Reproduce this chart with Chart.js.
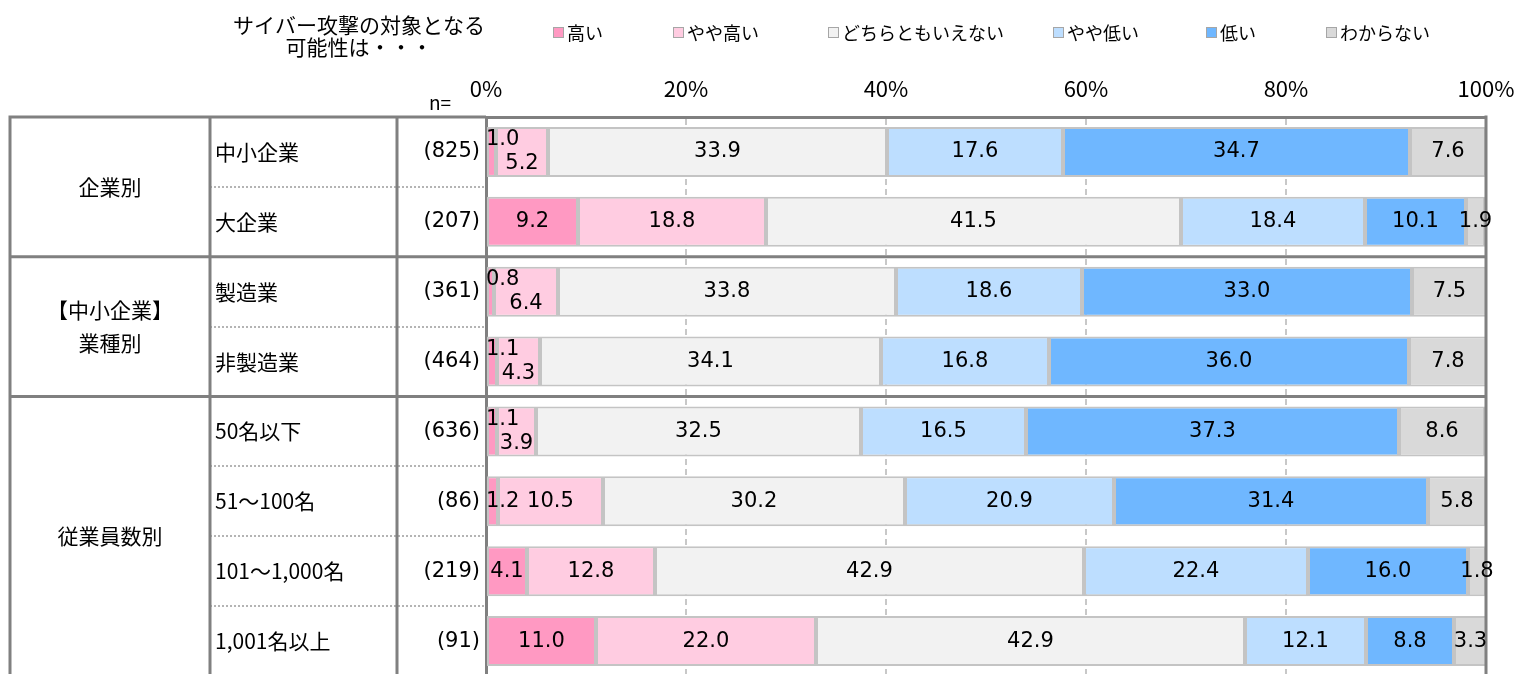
<!DOCTYPE html>
<html lang="ja">
<head>
<meta charset="utf-8">
<title>サイバー攻撃の対象となる可能性</title>
<script src="https://cdn.jsdelivr.net/npm/chart.js@4.4.1/dist/chart.umd.min.js"></script>
<style>
  html, body { margin: 0; padding: 0; background: #fff; overflow: hidden; }
  #wrap { position: relative; width: 1519px; height: 680px; }
</style>
</head>
<body>
<div id="wrap"><canvas id="chart"></canvas></div>
<script>
// 行ラベルとサンプル数
const rowLabels = ['中小企業', '大企業', '製造業', '非製造業', '50名以下', '51～100名', '101～1,000名', '1,001名以上'];
const sampleSizes = [825, 207, 361, 464, 636, 86, 219, 91];
const groupNames = ['企業別', '【中小企業】\n業種別', '従業員数別'];
const groupSizes = [2, 2, 4];

// 系列
const seriesNames = ['高い', 'やや高い', 'どちらともいえない', 'やや低い', '低い', 'わからない'];
const seriesColors = ['#FF99C2', '#FFCCE1', '#F2F2F2', '#BDDEFF', '#6FB7FF', '#D9D9D9'];
const high = [1.0, 9.2, 0.8, 1.1, 1.1, 1.2, 4.1, 11.0];
const ratherHigh = [5.2, 18.8, 6.4, 4.3, 3.9, 10.5, 12.8, 22.0];
const neither = [33.9, 41.5, 33.8, 34.1, 32.5, 30.2, 42.9, 42.9];
const ratherLow = [17.6, 18.4, 18.6, 16.8, 16.5, 20.9, 22.4, 12.1];
const low = [34.7, 10.1, 33.0, 36.0, 37.3, 31.4, 16.0, 8.8];
const unknown = [7.6, 1.9, 7.5, 7.8, 8.6, 5.8, 1.8, 3.3];
const seriesValues = [high, ratherHigh, neither, ratherLow, low, unknown];

const JP = '"Noto Sans CJK JP", sans-serif';
const NUM = '"DejaVu Sans", Verdana, sans-serif';

// 凡例とタイトル
const headerPlugin = {
  id: 'header',
  afterDraw(chart) {
    const ctx = chart.ctx;
    ctx.save();
    ctx.fillStyle = '#000';
    ctx.textBaseline = 'middle';
    ctx.textAlign = 'center';
    ctx.font = '21px ' + JP;
    ctx.fillText('サイバー攻撃の対象となる', 359, 25);
    ctx.fillText('可能性は・・・', 359, 47);
    ctx.font = '19px ' + JP;
    ctx.fillText('n=', 440, 103);

    const boxX = [553, 673, 828, 1053, 1206, 1326];
    ctx.textAlign = 'left';
    ctx.font = '18px ' + JP;
    chart.data.datasets.forEach((ds, i) => {
      ctx.fillStyle = ds.backgroundColor;
      ctx.fillRect(boxX[i], 27, 11, 11);
      ctx.strokeStyle = '#A6A6A6';
      ctx.lineWidth = 1;
      ctx.strokeRect(boxX[i] + 0.5, 27.5, 10, 10);
      ctx.fillStyle = '#000';
      ctx.fillText(ds.label, boxX[i] + 14, 33);
    });
    ctx.restore();
  }
};

// 左側の表
const tablePlugin = {
  id: 'table',
  afterDatasetsDraw(chart) {
    const ctx = chart.ctx;
    const y = chart.scales.y;
    const area = chart.chartArea;
    const step = y.getPixelForValue(1) - y.getPixelForValue(0);
    const edge = i => y.getPixelForValue(i) - step / 2;
    const col1 = 10, col2 = 210, col3 = 397, right = area.left;
    ctx.save();

    // 行間の点線
    ctx.strokeStyle = '#B4B4B4';
    ctx.lineWidth = 2;
    ctx.setLineDash([2, 2]);
    let start = 0;
    groupSizes.forEach(n => {
      for (let k = 1; k < n; k++) {
        const yy = Math.round(edge(start + k));
        ctx.beginPath();
        ctx.moveTo(col2, yy);
        ctx.lineTo(right, yy);
        ctx.stroke();
      }
      start += n;
    });
    ctx.setLineDash([]);

    // 罫線
    ctx.strokeStyle = '#808080';
    ctx.lineWidth = 3;
    ctx.beginPath();
    ctx.moveTo(col1, area.top);
    ctx.lineTo(right, area.top);
    start = 0;
    groupSizes.forEach((n, g) => {
      if (g > 0) {
        const yy = edge(start);
        ctx.moveTo(col1, yy);
        ctx.lineTo(area.right, yy);
      }
      start += n;
    });
    [col1, col2, col3].forEach(x => {
      ctx.moveTo(x, area.top - 1.5);
      ctx.lineTo(x, area.bottom);
    });
    ctx.moveTo(area.right, area.top - 1.5);
    ctx.lineTo(area.right, area.bottom);
    ctx.stroke();

    // 文字
    ctx.fillStyle = '#000';
    ctx.textBaseline = 'middle';
    ctx.font = '21px ' + JP;
    start = 0;
    groupSizes.forEach((n, g) => {
      const mid = (edge(start) + edge(start + n)) / 2;
      const lines = groupNames[g].split('\n');
      ctx.textAlign = 'center';
      lines.forEach((t, li) => {
        ctx.fillText(t, 110, mid + (li - (lines.length - 1) / 2) * 33);
      });
      start += n;
    });
    rowLabels.forEach((t, i) => {
      const yy = y.getPixelForValue(i);
      ctx.textAlign = 'left';
      ctx.font = '21px ' + JP;
      ctx.fillText(t, 215, yy);
      ctx.textAlign = 'right';
      ctx.font = '21px ' + NUM;
      ctx.fillText('(' + sampleSizes[i] + ')', 480, yy);
    });
    ctx.restore();
  }
};

// 値ラベル
const valuePlugin = {
  id: 'values',
  afterDatasetsDraw(chart) {
    const ctx = chart.ctx;
    ctx.save();
    ctx.font = '21px ' + NUM;
    ctx.fillStyle = '#000';
    ctx.textBaseline = 'middle';
    chart.data.datasets.forEach((ds, di) => {
      chart.getDatasetMeta(di).data.forEach((bar, i) => {
        const text = ds.data[i].toFixed(1);
        const crowded = ratherHigh[i] < 7;
        let x = (bar.x + bar.base) / 2;
        let yy = bar.y;
        ctx.textAlign = 'center';
        if (di === 0 && ctx.measureText(text).width > Math.abs(bar.x - bar.base)) {
          ctx.textAlign = 'left';
          x = bar.base - 1;
        }
        if (crowded && di === 0) yy -= 12;
        if (crowded && di === 1) yy += 12;
        ctx.fillText(text, x, yy);
      });
    });
    ctx.restore();
  }
};

const datasets = seriesNames.map((name, i) => ({
  label: name,
  data: seriesValues[i],
  backgroundColor: seriesColors[i],
  borderColor: '#C4C4C4',
  borderWidth: 2,
  borderSkipped: false,
  barPercentage: 0.715,
  categoryPercentage: 1.0
}));

new Chart(document.getElementById('chart'), {
  type: 'bar',
  data: { labels: rowLabels, datasets: datasets },
  options: {
    indexAxis: 'y',
    responsive: true,
    maintainAspectRatio: false,
    animation: false,
    layout: { padding: { left: 486, right: 33, top: 0, bottom: 4 } },
    plugins: {
      legend: { display: false },
      tooltip: { enabled: false }
    },
    scales: {
      x: {
        position: 'top',
        stacked: true,
        min: 0,
        max: 100,
        ticks: {
          stepSize: 20,
          color: '#000',
          padding: 15,
          font: { family: JP, size: 22 },
          callback: v => v + '%'
        },
        grid: {
          drawTicks: false,
          lineWidth: 2,
          color: c => {
            if (!c.tick || c.tick.value === 0) return 'rgba(0,0,0,0)';
            return c.tick.value === 100 ? '#A6A6A6' : '#C8C8C8';
          }
        },
        border: {
          color: '#808080',
          width: 3,
          dash: c => (c.tick && c.tick.value % 100 !== 0) ? [6, 4] : []
        },
        afterFit: s => {
          s.height = 117;
          s.paddingLeft = 0;
          s.paddingRight = 0;
        }
      },
      y: {
        stacked: true,
        ticks: { display: false },
        grid: { display: false },
        border: { color: '#808080', width: 3 },
        afterFit: s => { s.width = 0; }
      }
    }
  },
  plugins: [headerPlugin, tablePlugin, valuePlugin]
});
</script>
</body>
</html>
